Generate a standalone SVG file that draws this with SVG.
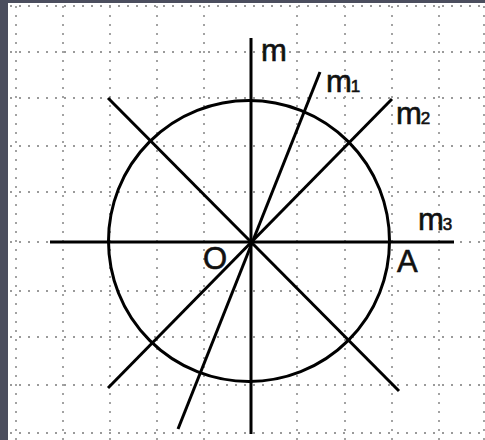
<svg xmlns="http://www.w3.org/2000/svg" width="485" height="440" viewBox="0 0 485 440">
<style>
.grid{stroke:#9a9a9a;stroke-width:1.8;stroke-dasharray:2 7;fill:none}
.ln{stroke:#000;stroke-width:3;fill:none;stroke-linecap:butt}
.lbl{font-family:"Liberation Sans",Arial,sans-serif;font-size:31px;fill:#111;stroke:#111;stroke-width:0.6}
.sub{font-size:17px}
</style>
<rect x="0" y="0" width="485" height="440" fill="#4b4e5e"/>
<rect x="8" y="3" width="477" height="437" fill="#ffffff"/>
<g id="grid" class="grid">
<path d="M16 6V440M63 6V440M110 6V440M157 6V440M204 6V440M297 6V440M345 6V440M392 6V440M439 6V440M484 6V440"/>
<path d="M10 6H485M10 52H485M10 98H485M10 146H485M10 192H485M10 242H485M10 291H485M10 337H485M10 385H485M10 433H485"/>
</g>
<g id="circle">
<circle cx="249" cy="241" r="140.5" class="ln" stroke-width="2.8"/>
</g>
<g id="connectors" class="ln">
<line id="m" x1="251" y1="38" x2="251" y2="434"/>
<line id="m3" x1="50" y1="242" x2="454" y2="242"/>
<line id="diag" x1="108" y1="98" x2="399" y2="391"/>
<line id="m2" x1="392" y1="99" x2="108" y2="388"/>
<line id="m1" x1="320" y1="72" x2="178" y2="429"/>
</g>
<g id="labels" class="lbl">
<text id="lbl-m" x="261" y="61">m</text>
<text id="lbl-m1" x="326" y="92">m<tspan class="sub" dx="-1">1</tspan></text>
<text id="lbl-m2" x="396" y="124">m<tspan class="sub" dx="-1">2</tspan></text>
<text id="lbl-m3" x="418" y="230">m<tspan class="sub" dx="-1">3</tspan></text>
<text id="lbl-O" x="203" y="269">O</text>
<text id="lbl-A" x="397" y="272">A</text>
</g>
</svg>
